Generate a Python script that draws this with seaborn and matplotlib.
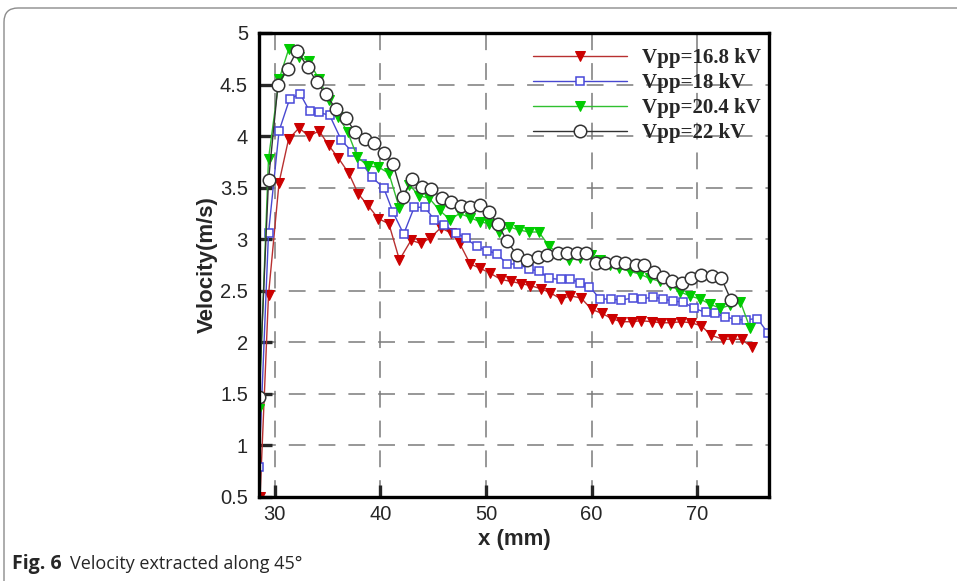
import numpy as np
import pandas as pd
import seaborn as sns
import matplotlib.pyplot as plt
from matplotlib.patches import FancyBboxPatch
from matplotlib.transforms import IdentityTransform

# velocity along the 45 deg line
x_168 = [28.6, 29.4, 30.4, 31.3, 32.3, 33.2, 34.2, 35.1, 36.0, 37.0, 37.9, 38.8, 39.8, 40.8,
         41.8, 42.9, 43.8, 44.7, 45.7, 46.7, 47.5, 48.5, 49.4, 50.4, 51.4, 52.4, 53.3, 54.2,
         55.2, 56.1, 57.1, 58.0, 59.0, 60.0, 61.0, 61.9, 62.8, 63.8, 64.7, 65.7, 66.6, 67.5,
         68.5, 69.4, 70.4, 71.3, 72.4, 73.3, 74.2, 75.2]
v_168 = [0.50, 2.46, 3.55, 3.97, 4.08, 4.00, 4.05, 3.91, 3.79, 3.64, 3.44, 3.33, 3.20, 3.15,
         2.80, 2.99, 2.96, 3.01, 3.11, 3.06, 2.96, 2.76, 2.72, 2.67, 2.61, 2.59, 2.57, 2.55,
         2.52, 2.48, 2.42, 2.45, 2.43, 2.32, 2.28, 2.23, 2.20, 2.20, 2.21, 2.20, 2.19, 2.19,
         2.20, 2.19, 2.16, 2.07, 2.03, 2.03, 2.03, 1.95]

x_18 = [28.5, 29.4, 30.4, 31.4, 32.4, 33.3, 34.2, 35.2, 36.3, 37.3, 38.3, 39.2, 40.3, 41.2,
        42.2, 43.2, 44.2, 45.1, 46.0, 47.2, 48.1, 49.1, 50.1, 51.0, 52.0, 53.0, 54.1, 55.0,
        56.0, 57.1, 58.0, 58.9, 59.8, 60.8, 61.8, 62.8, 63.9, 64.8, 65.8, 66.8, 67.7, 68.7,
        69.7, 70.8, 71.7, 72.6, 73.7, 74.6, 75.7, 76.7]
v_18 = [0.79, 3.06, 4.05, 4.36, 4.41, 4.24, 4.23, 4.20, 3.96, 3.85, 3.73, 3.60, 3.50, 3.26,
        3.05, 3.31, 3.31, 3.19, 3.14, 3.06, 3.01, 2.93, 2.89, 2.86, 2.76, 2.76, 2.71, 2.69,
        2.62, 2.61, 2.61, 2.58, 2.54, 2.42, 2.42, 2.41, 2.43, 2.42, 2.44, 2.42, 2.40, 2.39,
        2.33, 2.29, 2.28, 2.25, 2.22, 2.22, 2.23, 2.09]

x_204 = [28.5, 29.4, 30.4, 31.3, 32.3, 33.2, 34.2, 35.1, 36.0, 36.9, 37.8, 38.8, 39.8, 40.8,
         41.8, 42.7, 43.7, 44.6, 45.6, 46.6, 47.5, 48.5, 49.4, 50.3, 51.2, 52.2, 53.1, 54.1,
         55.0, 56.0, 57.0, 57.9, 58.9, 59.9, 60.8, 61.7, 62.6, 63.6, 64.6, 65.5, 66.5, 67.4,
         68.4, 69.3, 70.3, 71.2, 72.2, 73.1, 74.1, 75.0]
v_204 = [1.35, 3.78, 4.55, 4.84, 4.77, 4.73, 4.55, 4.35, 4.19, 4.04, 3.80, 3.71, 3.70, 3.64,
         3.30, 3.53, 3.42, 3.40, 3.28, 3.19, 3.25, 3.21, 3.17, 3.15, 3.07, 3.12, 3.09, 3.07,
         3.07, 2.93, 2.85, 2.80, 2.82, 2.85, 2.80, 2.75, 2.72, 2.69, 2.66, 2.62, 2.59, 2.56,
         2.49, 2.45, 2.42, 2.37, 2.33, 2.36, 2.39, 2.14]

x_22 = [28.5, 29.4, 30.3, 31.2, 32.1, 33.1, 34.0, 34.8, 35.8, 36.7, 37.6, 38.5, 39.4, 40.3,
        41.2, 42.1, 43.0, 43.9, 44.8, 45.8, 46.7, 47.6, 48.5, 49.4, 50.3, 51.1, 52.0, 52.9,
        53.9, 54.9, 55.8, 56.8, 57.7, 58.6, 59.5, 60.4, 61.3, 62.3, 63.2, 64.2, 65.0, 65.9,
        66.8, 67.6, 68.6, 69.4, 70.4, 71.4, 72.3, 73.2]
v_22 = [1.47, 3.57, 4.50, 4.65, 4.83, 4.67, 4.52, 4.41, 4.26, 4.18, 4.04, 3.97, 3.93, 3.84,
        3.73, 3.41, 3.58, 3.51, 3.49, 3.40, 3.36, 3.32, 3.31, 3.33, 3.26, 3.15, 2.98, 2.85,
        2.80, 2.83, 2.85, 2.87, 2.87, 2.87, 2.87, 2.77, 2.77, 2.78, 2.77, 2.75, 2.75, 2.68,
        2.63, 2.59, 2.58, 2.62, 2.65, 2.64, 2.62, 2.41]

labels = ["Vpp=16.8 kV", "Vpp=18 kV", "Vpp=20.4 kV", "Vpp=22 kV"]
x_ticks = [30, 40, 50, 60, 70]
y_ticks = [0.5, 1, 1.5, 2, 2.5, 3, 3.5, 4, 4.5, 5]
y_ticklabels = ["0.5", "1", "1.5", "2", "2.5", "3", "3.5", "4", "4.5", "5"]

sns.set_style("white")
plt.rcParams['font.family'] = ['Liberation Sans', 'DejaVu Sans']

fig = plt.figure(figsize=(9.57, 5.81), dpi=100)
ax = fig.add_axes([259/957, 1-497/581, 510/957, 464/581])

styles = [
    dict(color='#b83030', marker='v', markersize=6.8, markerfacecolor='#cc0000', markeredgecolor='#cc0000'),
    dict(color='#4848d0', marker='s', markersize=6.3, markerfacecolor='white', markeredgecolor='#4848d8', markeredgewidth=1.1),
    dict(color='#30c030', marker='v', markersize=6.8, markerfacecolor='#00cc00', markeredgecolor='#00cc00'),
    dict(color='#333333', marker='o', markersize=9, markerfacecolor='white', markeredgecolor='#333333', markeredgewidth=1.1),
]
series = [(x_168, v_168), (x_18, v_18), (x_204, v_204), (x_22, v_22)]
for (xs, vs), lab, st in zip(series, labels, styles):
    df = pd.DataFrame({"x": xs, "v": vs})
    sns.lineplot(data=df, x="x", y="v", sort=False, estimator=None, linewidth=1.0,
                 label=lab, ax=ax, **st)

ax.set_xlim(28.5, 76.8)
ax.set_ylim(0.5, 5)
ax.set_xticks(x_ticks)
ax.set_yticks(y_ticks)
ax.set_yticklabels(y_ticklabels)
ax.grid(True, color='#7a7a7a', linewidth=1.1, linestyle=(0, (11, 8.5)))
ax.set_axisbelow(True)
for s in ax.spines.values():
    s.set_linewidth(2.4)
    s.set_color('black')
ax.tick_params(direction='in', length=9, width=2.4, labelsize=14.5,
               left=True, bottom=True, top=False, right=False)
ax.tick_params(axis='y', pad=8)
ax.tick_params(axis='x', pad=6)

ax.set_xlabel("x (mm)", fontsize=16, fontweight='bold', labelpad=3)
ax.set_ylabel("Velocity(m/s)", fontsize=16, fontweight='bold')
ax.yaxis.set_label_coords(-0.08, 0.5)

leg = ax.legend(loc='upper right', bbox_to_anchor=(1.0, 0.986), frameon=False,
                handlelength=4.5, handletextpad=0.7, labelspacing=0.25,
                borderaxespad=0.1, borderpad=0.3,
                prop={'family': 'Liberation Serif', 'weight': 'bold', 'size': 15})

# outer frame of the figure panel
frame = FancyBboxPatch((4, -60), 1100, 581 - 8 + 60, boxstyle="round,pad=0,rounding_size=14",
                       transform=IdentityTransform(), facecolor='none', edgecolor='#8c8c8c',
                       linewidth=1.0)
fig.patches.append(frame)

fig.text(12/957, 1-564/581, "Fig. 6", fontsize=14, fontweight='bold', va='center',
         family=['Open Sans', 'DejaVu Sans'])
fig.text(70/957, 1-564/581, "Velocity extracted along 45°", fontsize=13, va='center',
         family=['Open Sans', 'DejaVu Sans'])

fig.savefig("out.png", dpi=100)
